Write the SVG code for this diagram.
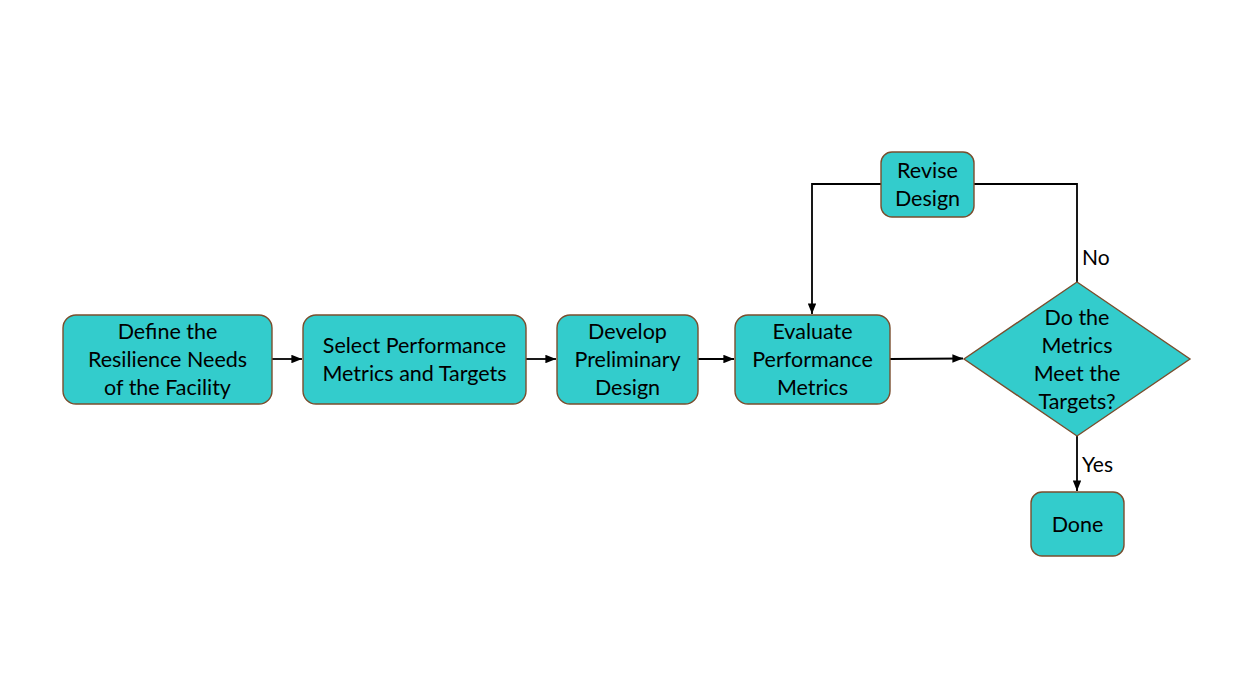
<svg xmlns="http://www.w3.org/2000/svg" width="1244" height="700" viewBox="0 0 1244 700">
<style>
.n{fill:#33CCCC;stroke:#7A4E2E;stroke-width:1.4}
.t{font-family:Lato,"Open Sans","Liberation Sans",sans-serif;font-size:21.5px;fill:#000;text-anchor:middle;dominant-baseline:central}
.l{font-family:Lato,"Open Sans","Liberation Sans",sans-serif;font-size:21px;fill:#000;dominant-baseline:central}
.c{fill:none;stroke:#000;stroke-width:1.8}
</style>
<defs>
<marker id="a" viewBox="0 0 10 8" refX="10" refY="4" markerWidth="11" markerHeight="8.5" markerUnits="userSpaceOnUse" orient="auto"><path d="M0,0 L10,4 L0,8 z" fill="#000"/></marker>
</defs>
<rect width="1244" height="700" fill="#fff"/>
<g id="connectors">
<line class="c" x1="272" y1="359" x2="302" y2="359" marker-end="url(#a)"/>
<line class="c" x1="526" y1="359" x2="556" y2="359" marker-end="url(#a)"/>
<line class="c" x1="698" y1="359" x2="734" y2="359" marker-end="url(#a)"/>
<line class="c" x1="890" y1="359" x2="963" y2="358.5" marker-end="url(#a)"/>
<polyline class="c" points="881,184 812,184 812,314" marker-end="url(#a)"/>
<polyline class="c" points="1077,282 1077,184 974,184"/>
<line class="c" x1="1077" y1="436" x2="1077" y2="491" marker-end="url(#a)"/>
<text class="l" x="1082" y="256">No</text>
<text class="l" x="1082" y="463">Yes</text>
</g>
<g id="define">
<rect class="n" x="63" y="315" width="209" height="89" rx="13"/>
<text class="t" x="167.5" y="331">Define the</text>
<text class="t" x="167.5" y="359">Resilience Needs</text>
<text class="t" x="167.5" y="387">of the Facility</text>
</g>
<g id="select">
<rect class="n" x="303" y="315" width="223" height="89" rx="13"/>
<text class="t" x="414.5" y="345">Select Performance</text>
<text class="t" x="414.5" y="373">Metrics and Targets</text>
</g>
<g id="develop">
<rect class="n" x="557" y="315" width="141" height="89" rx="13"/>
<text class="t" x="627.5" y="331">Develop</text>
<text class="t" x="627.5" y="359">Preliminary</text>
<text class="t" x="627.5" y="387">Design</text>
</g>
<g id="evaluate">
<rect class="n" x="735" y="315" width="155" height="89" rx="13"/>
<text class="t" x="812.5" y="331">Evaluate</text>
<text class="t" x="812.5" y="359">Performance</text>
<text class="t" x="812.5" y="387">Metrics</text>
</g>
<g id="decision">
<polygon class="n" points="1077,282 1190,359 1077,436 964,359"/>
<text class="t" x="1077" y="317">Do the</text>
<text class="t" x="1077" y="345">Metrics</text>
<text class="t" x="1077" y="373">Meet the</text>
<text class="t" x="1077" y="401">Targets?</text>
</g>
<g id="revise">
<rect class="n" x="881" y="152" width="93" height="65" rx="11"/>
<text class="t" x="927.5" y="170">Revise</text>
<text class="t" x="927.5" y="198">Design</text>
</g>
<g id="done">
<rect class="n" x="1031" y="492" width="93" height="64" rx="11"/>
<text class="t" x="1077.5" y="524">Done</text>
</g>
</svg>
